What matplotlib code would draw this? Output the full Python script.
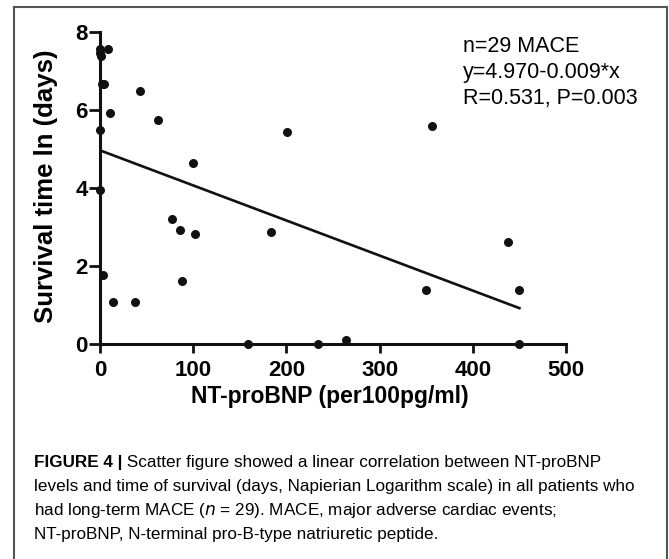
import matplotlib
matplotlib.use("Agg")
import matplotlib.pyplot as plt
from matplotlib.lines import Line2D

# NT-proBNP (per 100 pg/ml) vs ln survival time (days)
ntprobnp = [0, 9, 0.7, 0, 4, 2, 43, 11, 62, 0, 100, 0, 77, 86, 102, 183,
            3, 88, 14, 38, 159, 201, 356, 438, 350, 450, 234, 264, 450]
survival = [7.56, 7.56, 7.38, 7.47, 6.67, 6.67, 6.50, 5.92, 5.74, 5.49, 4.65, 3.95,
            3.20, 2.93, 2.82, 2.88, 1.78, 1.61, 1.09, 1.09, 0.0, 5.45, 5.60,
            2.63, 1.38, 1.38, 0.0, 0.10, 0.0]
intercept = 4.970
slope = -0.009
fit_range = [0, 450]
xticks = [0, 100, 200, 300, 400, 500]
yticks = [0, 2, 4, 6, 8]
stats_text = "n=29 MACE\ny=4.970-0.009*x\nR=0.531, P=0.003"
caption_bold = "FIGURE 4 |"
caption = [" Scatter figure showed a linear correlation between NT-proBNP",
           "levels and time of survival (days, Napierian Logarithm scale) in all patients who",
           "had long-term MACE ($\\mathit{n}$ = 29). MACE, major adverse cardiac events;",
           "NT-proBNP, N-terminal pro-B-type natriuretic peptide."]

plt.rcParams['font.family'] = ['Liberation Sans', 'DejaVu Sans']
W, H = 669, 559
fig = plt.figure(figsize=(W / 100, H / 100), dpi=100)
ax = fig.add_axes([100 / W, 1 - 344 / H, 466 / W, 311.7 / H])

ax.scatter(ntprobnp, survival, s=30, color='#111111', zorder=3, clip_on=False)
ax.plot(fit_range, [intercept + slope * v for v in fit_range], color='#111111', lw=1.9)

ax.set_xlim(0, 500)
ax.set_ylim(0, 8)
ax.set_xticks(xticks)
ax.set_yticks(yticks)
for s in ['top', 'right']:
    ax.spines[s].set_visible(False)
for s in ['left', 'bottom']:
    ax.spines[s].set_linewidth(2.2)
    ax.spines[s].set_color('#111111')
ax.tick_params(width=2, color='#111111', labelsize=16)
ax.tick_params(axis='x', length=6.5, pad=5)
ax.tick_params(axis='y', length=8, pad=1)
for lab in ax.get_xticklabels() + ax.get_yticklabels():
    lab.set_fontweight('bold')

fig.text(330 / W, 1 - 396 / H, "NT-proBNP (per100pg/ml)", ha='center', va='center',
         fontsize=16.5, fontweight='bold')
fig.text(46 / W, 1 - 186 / H, "Survival time ln (days)", ha='center', va='center',
         rotation=90, fontsize=18.5, fontweight='bold')
fig.text(463 / W, 1 - 36 / H, stats_text, ha='left', va='top',
        fontsize=15.5, linespacing=1.32)

# caption
cap_y = [463, 487, 511, 535]
t = fig.text(34 / W, 1 - cap_y[0] / H, caption_bold, ha='left', va='center', fontsize=12.3,
             fontweight='bold')
fig.canvas.draw()
bb = t.get_window_extent()
fig.text(bb.x1 / W, 1 - cap_y[0] / H, caption[0], ha='left', va='center', fontsize=12.3)
for yy, line in zip(cap_y[1:], caption[1:]):
    fig.text(34 / W, 1 - yy / H, line, ha='left', va='center', fontsize=12.3)

# frame around figure
frame = dict(color='#555555', lw=1.5, transform=fig.transFigure)
fig.add_artist(Line2D([14 / W, 14 / W], [0, 1 - 6.5 / H], **frame))
fig.add_artist(Line2D([667 / W, 667 / W], [0, 1 - 6.5 / H], **frame))
fig.add_artist(Line2D([14 / W, 667 / W], [1 - 6.5 / H, 1 - 6.5 / H], **frame))

fig.savefig("out.png", dpi=100)
